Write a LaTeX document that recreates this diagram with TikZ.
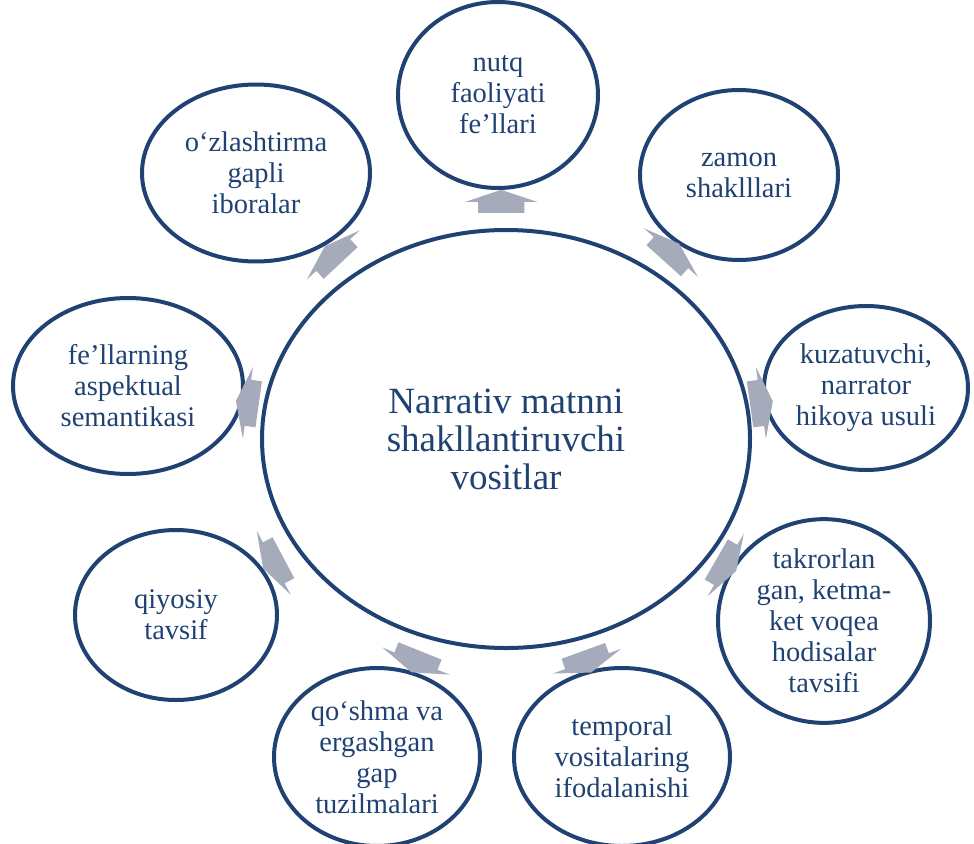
\documentclass[tikz,border=0pt]{standalone}
\usepackage{fontspec}
\setmainfont{Liberation Serif}
\usepackage{tikz}
\usetikzlibrary{shapes.geometric,shapes.arrows,calc}

\definecolor{darkblue}{RGB}{31,66,115}
\definecolor{arrowgray}{RGB}{166,171,187}

\tikzset{
  topic/.style={ellipse, draw=darkblue, line width=4pt, text=darkblue,
    align=center, inner sep=0pt, font=\fontsize{28.5}{31}\selectfont},
  hub/.style={topic, minimum width=488pt, minimum height=418pt,
    font=\fontsize{37}{38}\selectfont},
  blockarrow/.style={single arrow, fill=arrowgray, inner xsep=0pt, inner ysep=23pt,
    minimum width=72pt, minimum height=23pt,
    single arrow head extend=13pt, single arrow tip angle=143}
}

\begin{document}
\begin{tikzpicture}[x=1pt,y=-1pt]
    \useasboundingbox (0,0) rectangle (974,843);
    \node[hub] (narr) at (506,439) {Narrativ matnni\\shakllantiruvchi\\vositlar};

    \node[topic,minimum width=200pt,minimum height=186pt] (nutq) at (498,95) {nutq\\faoliyati\\fe’llari};
    \node[topic,minimum width=198pt,minimum height=170pt] (zamon) at (739,175) {zamon\\shaklllari};
    \node[topic,minimum width=204pt,minimum height=164pt] (kuzat) at (866,388) {kuzatuvchi,\\narrator\\hikoya usuli};
    \node[topic,minimum width=212pt,minimum height=172pt] (takror) at (824,621) {takrorlan\\gan, ketma-\\ket voqea\\hodisalar\\tavsifi};
    \node[topic,minimum width=216pt,minimum height=178pt] (temp) at (622,757) {temporal\\vositalaring\\ifodalanishi};
    \node[topic,minimum width=206pt,minimum height=178pt] (qoshma) at (377,757) {qo‘shma va\\ergashgan\\gap\\tuzilmalari};
    \node[topic,minimum width=202pt,minimum height=170pt] (qiyos) at (176,615) {qiyosiy\\tavsif};
    \node[topic,minimum width=230pt,minimum height=176pt] (aspekt) at (128,386) {fe’llarning\\aspektual\\semantikasi};
    \node[topic,minimum width=228pt,minimum height=177pt] (ozlash) at (256,173) {o‘zlashtirma\\gapli\\iboralar};

    % arrows from the hub out to each topic
    \node[blockarrow,rotate=90] (to-nutq) at ($(narr.90)!.6!(nutq.270)$) {};
    \node[blockarrow,rotate=48] (to-zamon) at ($(narr.48)!.6!(zamon.228)$) {};
    \node[blockarrow,rotate=8] (to-kuzat) at ($(narr.8)!.6!(kuzat.188)$) {};
    \node[blockarrow,rotate=330] (to-takror) at ($(narr.330)!.6!(takror.150)$) {};
    \node[blockarrow,rotate=290] (to-temp) at ($(narr.290)!.6!(temp.110)$) {};
    \node[blockarrow,rotate=248] (to-qoshma) at ($(narr.248)!.6!(qoshma.68)$) {};
    \node[blockarrow,rotate=208] (to-qiyos) at ($(narr.208)!.6!(qiyos.28)$) {};
    \node[blockarrow,rotate=172] (to-aspekt) at ($(narr.172)!.6!(aspekt.352)$) {};
    \node[blockarrow,rotate=133] (to-ozlash) at ($(narr.133)!.6!(ozlash.313)$) {};
\end{tikzpicture}
\end{document}
